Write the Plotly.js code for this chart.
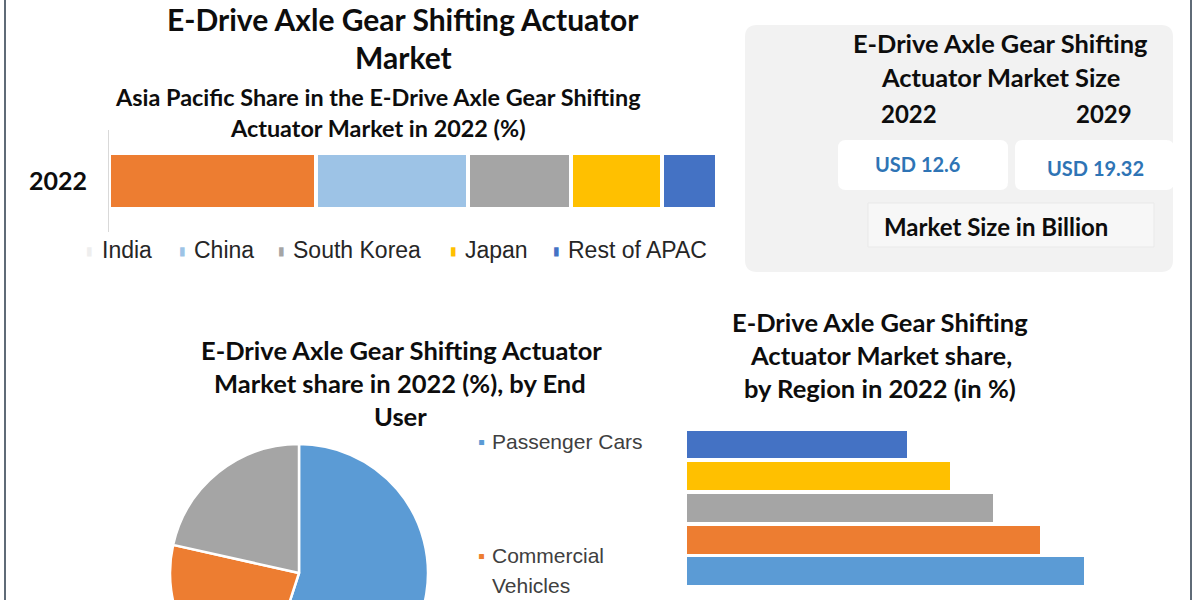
<!DOCTYPE html>
<html>
<head>
<meta charset="utf-8">
<script src="https://cdn.plot.ly/plotly-3.0.1.min.js"></script>
<style>
  html, body { margin: 0; padding: 0; background: #ffffff; overflow: hidden; width: 1200px; height: 600px; }
  #chart { width: 1200px; height: 720px; }
</style>
</head>
<body>
<div id="chart"></div>
<script>
// ---------------- DATA ----------------
const apacCountries = ['India', 'China', 'South Korea', 'Japan', 'Rest of APAC'];
const apacShare2022 = [34, 25, 17, 15, 9];
const apacYear = ['2022'];

const endUsers = ['Passenger Cars', 'Commercial Vehicles', 'Others'];
const endUserShare2022 = [55, 23.5, 21.5];

const regions = ['North America', 'Asia Pacific', 'Europe', 'Middle East and Africa', 'South America'];
const regionShare2022 = [25.8, 22.9, 19.9, 17.1, 14.3];

const marketYears = ['2022', '2029'];
const marketSizeBn = [12.6, 19.32];

// ---------------- STYLES ----------------
const apacColors = ['#ED7D31', '#9DC3E6', '#A5A5A5', '#FFC000', '#4472C4'];
const apacLegendColors = ['#EEEEEE', '#9DC3E6', '#A5A5A5', '#FFC000', '#4472C4'];
const endUserColors = ['#5B9BD5', '#ED7D31', '#A5A5A5'];
const regionColors = ['#5B9BD5', '#ED7D31', '#A5A5A5', '#FFC000', '#4472C4'];

const W = 1200, H = 720;
const fx = x => x / W;
const fy = y => 1 - y / H;
const TF = 'Lato, "Open Sans", sans-serif';
const LF = '"Liberation Sans", Arial, sans-serif';

// ---------------- TRACES ----------------
const traces = [];
apacCountries.forEach((c, i) => {
  traces.push({
    type: 'bar', orientation: 'h', name: c,
    y: apacYear, x: [apacShare2022[i]], width: 0.54,
    marker: { color: apacColors[i], line: { color: '#ffffff', width: 4 } },
    xaxis: 'x', yaxis: 'y', showlegend: false, hoverinfo: 'name+x'
  });
});

traces.push({
  type: 'pie', labels: endUsers, values: endUserShare2022,
  sort: false, direction: 'clockwise', rotation: 0,
  textinfo: 'none', showlegend: false,
  marker: { colors: endUserColors, line: { color: '#ffffff', width: 2.5 } },
  domain: { x: [fx(170), fx(428)], y: [fy(702), fy(444)] }
});

traces.push({
  type: 'bar', orientation: 'h', y: regions, x: regionShare2022,
  marker: { color: regionColors }, xaxis: 'x2', yaxis: 'y2', showlegend: false
});

// ---------------- ANNOTATIONS ----------------
const ann = [];
function txt(text, x, y, size, opts = {}) {
  ann.push(Object.assign({
    text: text, x: fx(x), y: fy(y), xref: 'paper', yref: 'paper',
    xanchor: 'center', yanchor: 'middle', showarrow: false,
    font: { family: TF, size: size, color: '#0D0D0D', weight: 'bold' }
  }, opts));
}
// Main titles
txt('E-Drive Axle Gear Shifting Actuator', 403, 19, 30);
txt('Market', 403, 57, 30);
txt('Asia Pacific Share in the E-Drive Axle Gear Shifting', 378, 97, 23.4);
txt('Actuator Market in 2022 (%)', 378, 128, 23.4);

// APAC legend
const apacMarkerX = [89, 182, 281, 453, 556];
const apacTextX = [100, 192, 291, 463, 566];
apacCountries.forEach((c, i) => {
  txt('\u25AE', apacMarkerX[i], 251, 12,
    { font: { family: LF, size: 12, color: apacLegendColors[i], weight: 'normal' } });
  txt(c, apacTextX[i], 250, 23,
    { xanchor: 'left', font: { family: LF, size: 23, color: '#262626', weight: 'normal' } });
});

// Market size panel
txt('E-Drive Axle Gear Shifting', 1000, 43, 25.4);
txt('Actuator Market Size', 1000, 77, 25.4);
const yearX = [909, 1104];
const valX = [917, 1095];
const valY = [164, 168];
marketYears.forEach((y, i) => {
  txt(y, yearX[i], 113, 24);
  txt('USD ' + marketSizeBn[i], valX[i], valY[i], 20, { font: { family: TF, size: 20, color: '#2E74B5', weight: 'bold' } });
});
txt('Market Size in Billion', 996, 226, 24);

// Pie title
txt('E-Drive Axle Gear Shifting Actuator', 401, 350, 25.5);
txt('Market share in 2022 (%), by End', 400, 383, 25.5);
txt('User', 400, 416, 25.5);

// Pie legend (only the entries inside the visible frame)
const pieLegendLines = [['Passenger Cars'], ['Commercial', 'Vehicles']];
const pieLegendY = [441, 555];
pieLegendLines.forEach((lines, i) => {
  txt('\u25AA', 481, pieLegendY[i] + 1, 20,
    { font: { family: LF, size: 20, color: endUserColors[i], weight: 'normal' } });
  lines.forEach((ln, j) => {
    txt(ln, 490, pieLegendY[i] + 30 * j, 21,
      { xanchor: 'left', font: { family: LF, size: 21, color: '#404040', weight: 'normal' } });
  });
});

// Region title
txt('E-Drive Axle Gear Shifting', 880, 322, 25.5);
txt('Actuator Market share,', 881, 355, 25.5);
txt('by Region in 2022 (in %)', 880, 388, 25.5);

// ---------------- SHAPES ----------------
function roundRect(x0, y0, x1, y1, r) {
  const X = v => fx(v), Y = v => fy(v);
  const rx = r / W, ry = r / H;
  return 'M ' + (X(x0) + rx) + ' ' + Y(y0) +
    ' L ' + (X(x1) - rx) + ' ' + Y(y0) +
    ' Q ' + X(x1) + ' ' + Y(y0) + ' ' + X(x1) + ' ' + (Y(y0) - ry) +
    ' L ' + X(x1) + ' ' + (Y(y1) + ry) +
    ' Q ' + X(x1) + ' ' + Y(y1) + ' ' + (X(x1) - rx) + ' ' + Y(y1) +
    ' L ' + (X(x0) + rx) + ' ' + Y(y1) +
    ' Q ' + X(x0) + ' ' + Y(y1) + ' ' + X(x0) + ' ' + (Y(y1) + ry) +
    ' L ' + X(x0) + ' ' + (Y(y0) - ry) +
    ' Q ' + X(x0) + ' ' + Y(y0) + ' ' + (X(x0) + rx) + ' ' + Y(y0) + ' Z';
}
const shapes = [
  { type: 'path', path: roundRect(745, 25, 1173, 272, 12), xref: 'paper', yref: 'paper', fillcolor: '#F2F2F2', line: { width: 0 }, layer: 'below' },
  { type: 'path', path: roundRect(838, 140, 1008, 190, 8), xref: 'paper', yref: 'paper', fillcolor: '#FFFFFF', line: { width: 0 }, layer: 'below' },
  { type: 'path', path: roundRect(1015, 140, 1174, 190, 8), xref: 'paper', yref: 'paper', fillcolor: '#FFFFFF', line: { width: 0 }, layer: 'below' },
  { type: 'rect', x0: fx(868), x1: fx(1154), y0: fy(247), y1: fy(203), xref: 'paper', yref: 'paper', fillcolor: '#F7F7F7', line: { color: '#E9E9E9', width: 1 }, layer: 'below' },
  { type: 'line', x0: fx(5), x1: fx(5), y0: 0, y1: 1, xref: 'paper', yref: 'paper', line: { color: '#5F6B77', width: 2 } },
  { type: 'line', x0: fx(1191), x1: fx(1191), y0: 0, y1: 1, xref: 'paper', yref: 'paper', line: { color: '#5F6B77', width: 2 } }
];

// ---------------- LAYOUT ----------------
const layout = {
  width: W, height: H,
  margin: { l: 0, r: 0, t: 0, b: 0, pad: 0 },
  paper_bgcolor: '#ffffff', plot_bgcolor: 'rgba(0,0,0,0)',
  barmode: 'stack', bargap: 0.12,
  showlegend: false,
  xaxis: { domain: [fx(109), fx(717)], range: [0, 100], visible: false, anchor: 'y', fixedrange: true },
  yaxis: {
    domain: [fy(232), fy(130)], type: 'category', range: [-0.5, 0.5], anchor: 'x',
    showline: true, linecolor: '#D9D9D9', linewidth: 1, showgrid: false, zeroline: false,
    ticks: '', ticklabelstandoff: 16,
    tickfont: { family: TF, size: 25, color: '#0D0D0D', weight: 'bold' }
  },
  xaxis2: { domain: [fx(687), fx(1149)], range: [0, 30], visible: false, anchor: 'y2' },
  yaxis2: { domain: [fy(587.3), fy(428.6)], type: 'category', categoryorder: 'array', categoryarray: regions, visible: false, anchor: 'x2' },
  annotations: ann,
  shapes: shapes
};

Plotly.newPlot('chart', traces, layout, { staticPlot: true, displayModeBar: false });
</script>
</body>
</html>
